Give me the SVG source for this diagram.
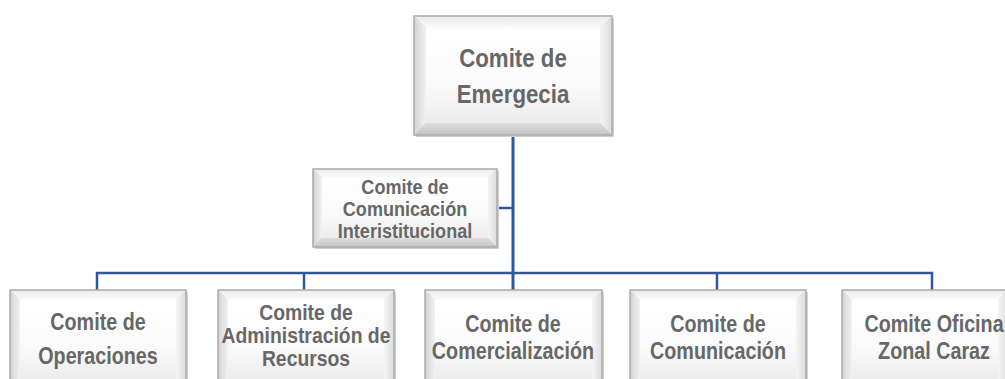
<svg xmlns="http://www.w3.org/2000/svg" width="1005" height="379" viewBox="0 0 1005 379">
<defs>
<linearGradient id="gFace" x1="0" y1="0" x2="0" y2="1"><stop offset="0" stop-color="#ffffff"/><stop offset="0.6" stop-color="#fafafa"/><stop offset="1" stop-color="#ececec"/></linearGradient>
<linearGradient id="gLeft" x1="0" y1="0" x2="1" y2="0"><stop offset="0" stop-color="#d2d2d2"/><stop offset="1" stop-color="#f2f2f2"/></linearGradient>
<linearGradient id="gRight" x1="0" y1="0" x2="1" y2="0"><stop offset="0" stop-color="#f5f5f5"/><stop offset="1" stop-color="#dcdcdc"/></linearGradient>
<linearGradient id="gTop" x1="0" y1="0" x2="0" y2="1"><stop offset="0" stop-color="#ebebeb"/><stop offset="1" stop-color="#fbfbfb"/></linearGradient>
<linearGradient id="gBot" x1="0" y1="0" x2="0" y2="1"><stop offset="0" stop-color="#dedede"/><stop offset="1" stop-color="#c4c4c4"/></linearGradient>
</defs>
<style>
.shadow{fill:#d0d0d0}
.top{fill:url(#gTop)}
.left{fill:url(#gLeft)}
.right{fill:url(#gRight)}
.bot{fill:url(#gBot)}
.face{fill:url(#gFace)}
.edge{fill:none;stroke:#aaaaaa;stroke-width:1.5}
.lbl{font-family:"Liberation Sans",Arial,sans-serif;font-weight:bold;fill:#676767;text-anchor:middle}
.conn{stroke:#2f56a5;stroke-width:2.5;fill:none}
</style>
<rect width="1005" height="379" fill="#ffffff"/>
<g id="connectors">
<line class="conn" x1="513" y1="135" x2="513" y2="290" style="stroke-width:3"/>
<line class="conn" x1="497" y1="208" x2="513" y2="208"/>
<polyline class="conn" points="97,290 97,273 932,273 932,290"/>
<line class="conn" x1="304" y1="273" x2="304" y2="290"/>
<line class="conn" x1="717" y1="273" x2="717" y2="290"/>
</g>
<g id="node-emergencia">
<rect class="shadow" x="416" y="18" width="198" height="119"/>
<polygon class="top" points="414,16 612,16 600,28 426,28"/>
<polygon class="left" points="414,16 426,28 426,123 414,135"/>
<polygon class="right" points="612,16 612,135 600,123 600,28"/>
<polygon class="bot" points="414,135 612,135 600,123 426,123"/>
<rect class="face" x="426" y="28" width="174" height="95"/>
<rect class="edge" x="414" y="16" width="198" height="119"/>
<text class="lbl" font-size="26.5" transform="translate(513 0) scale(0.84 1)"><tspan x="0" y="67">Comite de</tspan><tspan x="0" y="103">Emergecia</tspan></text>
</g>
<g id="node-interinstitucional">
<rect class="shadow" x="315" y="171" width="184" height="78"/>
<polygon class="top" points="313,169 497,169 488,178 322,178"/>
<polygon class="left" points="313,169 322,178 322,238 313,247"/>
<polygon class="right" points="497,169 497,247 488,238 488,178"/>
<polygon class="bot" points="313,247 497,247 488,238 322,238"/>
<rect class="face" x="322" y="178" width="166" height="60"/>
<rect class="edge" x="313" y="169" width="184" height="78"/>
<text class="lbl" font-size="21" transform="translate(405 0) scale(0.86 1)"><tspan x="0" y="194">Comite de</tspan><tspan x="0" y="216">Comunicación</tspan><tspan x="0" y="238">Interistitucional</tspan></text>
</g>
<g id="node-operaciones">
<rect class="shadow" x="12" y="292" width="176" height="100"/>
<polygon class="top" points="10,290 186,290 176,300 20,300"/>
<polygon class="left" points="10,290 20,300 20,380 10,390"/>
<polygon class="right" points="186,290 186,390 176,380 176,300"/>
<rect class="face" x="20" y="300" width="156" height="80"/>
<rect class="edge" x="10" y="290" width="176" height="100"/>
<text class="lbl" font-size="23.5" transform="translate(98 0) scale(0.84 1)"><tspan x="0" y="330">Comite de</tspan><tspan x="0" y="364">Operaciones</tspan></text>
</g>
<g id="node-administracion">
<rect class="shadow" x="220" y="292" width="176" height="100"/>
<polygon class="top" points="218,290 394,290 384,300 228,300"/>
<polygon class="left" points="218,290 228,300 228,380 218,390"/>
<polygon class="right" points="394,290 394,390 384,380 384,300"/>
<rect class="face" x="228" y="300" width="156" height="80"/>
<rect class="edge" x="218" y="290" width="176" height="100"/>
<text class="lbl" font-size="22" transform="translate(306 0) scale(0.88 1)"><tspan x="0" y="320">Comite de</tspan><tspan x="0" y="343">Administración de</tspan><tspan x="0" y="366">Recursos</tspan></text>
</g>
<g id="node-comercializacion">
<rect class="shadow" x="427" y="292" width="177" height="100"/>
<polygon class="top" points="425,290 602,290 592,300 435,300"/>
<polygon class="left" points="425,290 435,300 435,380 425,390"/>
<polygon class="right" points="602,290 602,390 592,380 592,300"/>
<rect class="face" x="435" y="300" width="157" height="80"/>
<rect class="edge" x="425" y="290" width="177" height="100"/>
<text class="lbl" font-size="23.5" transform="translate(513 0) scale(0.84 1)"><tspan x="0" y="332">Comite de</tspan><tspan x="0" y="359">Comercialización</tspan></text>
</g>
<g id="node-comunicacion">
<rect class="shadow" x="632" y="292" width="176" height="100"/>
<polygon class="top" points="630,290 806,290 796,300 640,300"/>
<polygon class="left" points="630,290 640,300 640,380 630,390"/>
<polygon class="right" points="806,290 806,390 796,380 796,300"/>
<rect class="face" x="640" y="300" width="156" height="80"/>
<rect class="edge" x="630" y="290" width="176" height="100"/>
<text class="lbl" font-size="23.5" transform="translate(718 0) scale(0.84 1)"><tspan x="0" y="332">Comite de</tspan><tspan x="0" y="359">Comunicación</tspan></text>
</g>
<g id="node-caraz">
<rect class="shadow" x="844" y="292" width="166" height="100"/>
<polygon class="top" points="842,290 1008,290 998,300 852,300"/>
<polygon class="left" points="842,290 852,300 852,380 842,390"/>
<polygon class="right" points="1008,290 1008,390 998,380 998,300"/>
<rect class="face" x="852" y="300" width="146" height="80"/>
<rect class="edge" x="842" y="290" width="166" height="100"/>
<text class="lbl" font-size="23.5" transform="translate(934 0) scale(0.84 1)"><tspan x="0" y="332">Comite Oficina</tspan><tspan x="0" y="359">Zonal Caraz</tspan></text>
</g>
</svg>
